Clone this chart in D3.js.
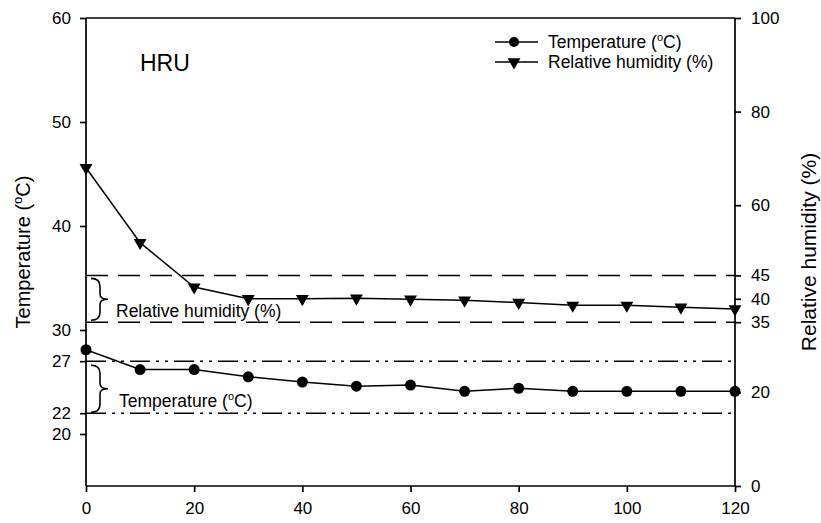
<!DOCTYPE html>
<html>
<head>
<meta charset="utf-8">
<script src="https://cdn.jsdelivr.net/npm/d3@7"></script>
<style>
  body { margin: 0; background: #fff; }
  text { font-family: "Liberation Sans", Arial, sans-serif; fill: #000; }
</style>
</head>
<body>
<svg id="chart" width="821" height="523"></svg>
<script>
// data
var minutes = [0, 10, 20, 30, 40, 50, 60, 70, 80, 90, 100, 110, 120];
var temperature = [28.1, 26.2, 26.2, 25.5, 25.0, 24.6, 24.7, 24.1, 24.4, 24.1, 24.1, 24.1, 24.1];
var humidity = [68.0, 52.0, 42.5, 40.0, 40.0, 40.1, 39.9, 39.7, 39.2, 38.6, 38.6, 38.2, 37.8];
var xTicks = [0, 20, 40, 60, 80, 100, 120];
var tempTicks = [20, 22, 27, 30, 40, 50, 60];
var rhTicks = [0, 20, 35, 40, 45, 60, 80, 100];
var rhBand = [35, 45];
var tempBand = [22, 27];

var svg = d3.select("#chart");
var mLeft = 86, mRight = 735, mTop = 18, mBottom = 486;

var x = d3.scaleLinear().domain([0, 120]).range([mLeft, mRight]);
var yT = d3.scaleLinear().domain([15, 60]).range([mBottom, mTop]);
var yH = d3.scaleLinear().domain([0, 100]).range([mBottom, mTop]);

// axes
var xAxis = svg.append("g").attr("transform", "translate(0," + mBottom + ")")
  .call(d3.axisBottom(x).tickValues(xTicks).tickSize(6).tickPadding(10));
var lAxis = svg.append("g").attr("transform", "translate(" + mLeft + ",0)")
  .call(d3.axisLeft(yT).tickValues(tempTicks).tickSize(6).tickPadding(9));
var rAxis = svg.append("g").attr("transform", "translate(" + mRight + ",0)")
  .call(d3.axisRight(yH).tickValues(rhTicks).tickSize(6).tickPadding(10));

[xAxis, lAxis, rAxis].forEach(function (g) {
  g.selectAll("path, line").attr("stroke", "#000").attr("stroke-width", 1.7);
  g.selectAll("text").attr("font-size", 17).attr("font-family", "Liberation Sans, Arial, sans-serif").attr("fill", "#000");
});
lAxis.select(".domain").attr("d", "M0," + mTop + "V" + mBottom);
rAxis.select(".domain").attr("d", "M0," + mTop + "V" + mBottom);
xAxis.select(".domain").attr("d", "M" + mLeft + ",0H" + mRight);

// top frame line
svg.append("line").attr("x1", mLeft).attr("x2", mRight).attr("y1", mTop).attr("y2", mTop)
  .attr("stroke", "#000").attr("stroke-width", 1.7);

// reference band lines
rhBand.forEach(function (v) {
  svg.append("line").attr("x1", mLeft).attr("x2", mRight).attr("y1", yH(v)).attr("y2", yH(v))
    .attr("stroke", "#000").attr("stroke-width", 1.5).attr("stroke-dasharray", "22,10");
});
tempBand.forEach(function (v) {
  svg.append("line").attr("x1", mLeft).attr("x2", mRight).attr("y1", yT(v)).attr("y2", yT(v))
    .attr("stroke", "#000").attr("stroke-width", 1.5).attr("stroke-dasharray", "20,6,3,6,3,6");
});

// braces
function brace(y1, y2) {
  var xl = 91, xm = 100, xp = 108, ym = (y1 + y2) / 2;
  return "M" + xl + "," + y1 + " Q" + xm + "," + y1 + " " + xm + "," + (y1 + 8) +
    " L" + xm + "," + (ym - 5) + " Q" + xm + "," + ym + " " + xp + "," + ym +
    " Q" + xm + "," + ym + " " + xm + "," + (ym + 5) +
    " L" + xm + "," + (y2 - 8) + " Q" + xm + "," + y2 + " " + xl + "," + y2;
}
svg.append("path").attr("d", brace(yH(45) + 3, yH(35) - 2)).attr("fill", "none").attr("stroke", "#000").attr("stroke-width", 1.6);
svg.append("path").attr("d", brace(yT(27) + 4, yT(22) - 1)).attr("fill", "none").attr("stroke", "#000").attr("stroke-width", 1.6);

svg.append("text").attr("x", 116).attr("y", 317).attr("font-size", 17.5).text("Relative humidity (%)");
var tl = svg.append("text").attr("x", 119).attr("y", 407).attr("font-size", 17.5);
tl.append("tspan").text("Temperature (");
tl.append("tspan").attr("font-size", 11).attr("dy", -7).text("o");
tl.append("tspan").attr("dy", 7).text("C)");

// series
var line = d3.line();
svg.append("path")
  .attr("d", line(minutes.map(function (m, i) { return [x(m), yH(humidity[i])]; })))
  .attr("fill", "none").attr("stroke", "#000").attr("stroke-width", 1.5);
svg.append("path")
  .attr("d", line(minutes.map(function (m, i) { return [x(m), yT(temperature[i])]; })))
  .attr("fill", "none").attr("stroke", "#000").attr("stroke-width", 1.5);

var tri = d3.symbol().type(d3.symbolTriangle).size(72);
svg.selectAll(".rh").data(minutes).enter().append("path")
  .attr("d", tri)
  .attr("transform", function (m, i) { return "translate(" + x(m) + "," + yH(humidity[i]) + ") rotate(180)"; })
  .attr("fill", "#000");
svg.selectAll(".tp").data(minutes).enter().append("circle")
  .attr("cx", function (m) { return x(m); })
  .attr("cy", function (m, i) { return yT(temperature[i]); })
  .attr("r", 5.5).attr("fill", "#000");

// panel label
svg.append("text").attr("x", 140).attr("y", 71).attr("font-size", 23).text("HRU");

// legend
var lg = svg.append("g");
lg.append("line").attr("x1", 495).attr("x2", 538).attr("y1", 42).attr("y2", 42).attr("stroke", "#000").attr("stroke-width", 1.5);
lg.append("circle").attr("cx", 514).attr("cy", 42).attr("r", 5).attr("fill", "#000");
lg.append("line").attr("x1", 495).attr("x2", 538).attr("y1", 62).attr("y2", 62).attr("stroke", "#000").attr("stroke-width", 1.5);
lg.append("path").attr("d", tri).attr("transform", "translate(514,62) rotate(180)").attr("fill", "#000");
var l1 = lg.append("text").attr("x", 548).attr("y", 48).attr("font-size", 17.5);
l1.append("tspan").text("Temperature (");
l1.append("tspan").attr("font-size", 11).attr("dy", -7).text("o");
l1.append("tspan").attr("dy", 7).text("C)");
lg.append("text").attr("x", 548).attr("y", 68).attr("font-size", 17.5).text("Relative humidity (%)");

// axis titles
var ltitle = svg.append("text").attr("transform", "translate(30," + ((mTop + mBottom) / 2) + ") rotate(-90)")
  .attr("text-anchor", "middle").attr("font-size", 20);
ltitle.append("tspan").text("Temperature (");
ltitle.append("tspan").attr("font-size", 13).attr("dy", -8).text("o");
ltitle.append("tspan").attr("dy", 8).text("C)");
svg.append("text").attr("transform", "translate(816," + ((mTop + mBottom) / 2) + ") rotate(-90)")
  .attr("text-anchor", "middle").attr("font-size", 21).text("Relative humidity (%)");
</script>
</body>
</html>
